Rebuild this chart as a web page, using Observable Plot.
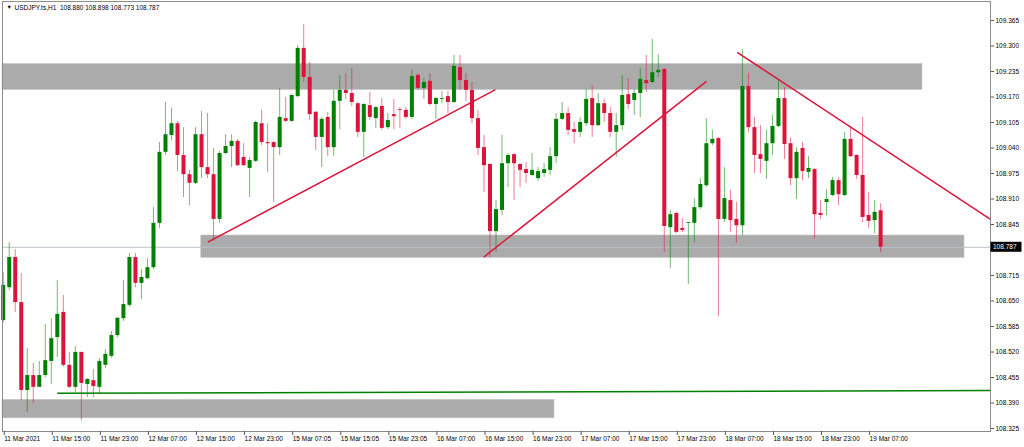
<!DOCTYPE html>
<html><head><meta charset="utf-8">
<script src="https://cdn.jsdelivr.net/npm/d3@7"></script>
<script src="https://cdn.jsdelivr.net/npm/@observablehq/plot@0.6"></script>
<style>html,body{margin:0;padding:0;background:#fff;overflow:hidden} svg{display:block}</style>
</head><body><div id="chart"></div>
<script>
// USDJPY H1 candles, index 0 = 11 Mar 2021 07:00
const open = [
108.600,108.684,108.761,108.646,108.422,108.460,108.430,108.460,108.496,108.557,
108.621,108.486,108.430,108.519,108.437,108.447,108.430,108.486,108.509,108.562,
108.605,108.639,108.761,108.695,108.707,108.735,108.848,109.029,109.072,109.102,
109.021,108.972,108.950,109.074,108.990,108.972,108.858,109.026,109.044,109.057,
109.016,108.988,109.006,109.102,109.054,109.054,109.041,109.115,109.108,109.171,
109.294,109.220,109.131,109.067,109.118,109.041,109.159,109.187,109.179,109.153,
109.080,109.148,109.115,109.146,109.092,109.125,109.138,109.136,109.118,109.225,
109.192,109.210,109.151,109.164,109.171,109.156,109.245,109.212,109.187,109.115,
109.041,108.998,108.827,108.881,109.000,109.023,108.998,108.985,108.970,108.962,
108.975,108.983,109.018,109.113,109.128,109.087,109.080,109.102,109.166,109.097,
109.153,109.128,109.080,109.097,109.176,109.161,109.179,109.212,109.207,109.232,
109.240,108.837,108.873,108.835,108.848,108.848,108.888,108.944,109.051,109.064,
108.858,108.906,108.858,108.842,109.197,109.092,109.023,109.006,109.051,109.095,
109.166,109.051,108.962,109.039,108.978,108.985,108.873,108.901,108.919,108.957,
108.919,109.062,109.021,108.970,108.868,108.855,108.880];
const high = [
108.723,108.799,108.781,108.720,108.529,108.491,108.496,108.590,108.605,108.702,
108.664,108.519,108.534,108.519,108.453,108.475,108.504,108.526,108.572,108.608,
108.702,108.771,108.771,108.730,108.758,108.888,109.054,109.156,109.141,109.108,
109.092,108.983,109.092,109.133,109.128,109.039,109.031,109.074,109.074,109.062,
109.051,109.016,109.108,109.136,109.102,109.057,109.192,109.169,109.176,109.301,
109.355,109.258,109.133,109.118,109.131,109.187,109.225,109.230,109.243,109.156,
109.153,109.181,109.146,109.166,109.128,109.164,109.143,109.143,109.238,109.230,
109.217,109.230,109.169,109.184,109.184,109.276,109.276,109.230,109.207,109.136,
109.072,109.000,108.906,109.072,109.026,109.026,109.000,109.003,109.026,108.990,
109.000,109.041,109.128,109.156,109.143,109.105,109.118,109.189,109.199,109.179,
109.164,109.143,109.128,109.225,109.217,109.189,109.243,109.276,109.317,109.278,
109.243,108.881,108.876,108.860,108.850,108.911,108.962,109.115,109.085,109.067,
108.990,108.932,108.901,109.291,109.230,109.118,109.097,109.085,109.123,109.212,
109.194,109.064,109.041,109.054,109.018,108.988,108.906,108.934,108.965,108.965,
109.080,109.095,109.023,109.118,108.927,108.906,108.898];
const low = [
108.595,108.677,108.621,108.396,108.366,108.389,108.430,108.455,108.437,108.506,
108.481,108.427,108.417,108.345,108.404,108.404,108.414,108.478,108.504,108.557,
108.598,108.634,108.684,108.654,108.705,108.730,108.835,109.021,109.059,108.980,
108.914,108.893,108.947,108.962,108.962,108.802,108.848,109.023,108.990,108.993,
108.993,108.914,109.003,109.046,108.978,108.901,109.021,109.105,109.105,109.169,
109.207,109.110,109.034,108.990,109.018,109.018,109.087,109.164,109.146,109.067,
109.016,109.110,109.090,109.085,109.087,109.087,109.090,109.113,109.113,109.187,
109.164,109.148,109.113,109.153,109.128,109.153,109.187,109.159,109.102,109.021,
108.927,108.761,108.774,108.868,108.939,108.906,108.939,108.950,108.967,108.955,
108.965,108.970,109.000,109.110,109.072,109.051,109.067,109.095,109.067,109.095,
109.105,109.067,109.016,109.085,109.138,109.123,109.118,109.181,109.204,109.220,
108.774,108.733,108.822,108.825,108.692,108.799,108.883,108.939,109.046,108.611,
108.850,108.825,108.797,108.817,109.080,108.975,108.975,108.960,109.021,109.092,
109.011,108.944,108.909,108.957,108.962,108.809,108.858,108.868,108.916,108.893,
108.916,109.016,108.960,108.850,108.835,108.822,108.773];
const close = [
108.690,108.761,108.646,108.422,108.460,108.430,108.460,108.498,108.554,108.616,
108.486,108.430,108.519,108.440,108.450,108.432,108.496,108.514,108.562,108.606,
108.641,108.761,108.695,108.710,108.735,108.848,109.029,109.074,109.102,109.021,
108.972,108.950,109.074,108.990,108.972,108.858,109.026,109.044,109.057,108.995,
108.995,109.008,109.105,109.054,109.051,109.041,109.118,109.108,109.174,109.294,
109.220,109.125,109.067,109.113,109.041,109.159,109.187,109.179,109.156,109.080,
109.151,109.118,109.143,109.090,109.110,109.120,109.136,109.118,109.222,109.192,
109.207,109.151,109.166,109.166,109.156,109.248,109.212,109.187,109.115,109.039,
108.995,108.827,108.883,109.000,109.021,109.000,108.983,108.975,108.983,108.980,
108.985,109.018,109.113,109.128,109.085,109.080,109.105,109.164,109.097,109.153,
109.128,109.080,109.097,109.174,109.151,109.179,109.215,109.204,109.232,109.238,
108.840,108.870,108.825,108.830,108.850,108.888,108.947,109.051,109.062,108.858,
108.911,108.855,108.842,109.197,109.092,109.021,109.011,109.051,109.095,109.166,
109.049,108.962,109.029,108.980,108.988,108.870,108.868,108.909,108.957,108.921,
109.062,109.018,108.970,108.863,108.853,108.876,108.787];

const tickIndex = [0,8,16,24,32,40,48,56,64,72,80,88,96,104,112,120,128,136,144];
const tickLabels = ["11 Mar 2021","11 Mar 15:00","11 Mar 23:00","12 Mar 07:00","12 Mar 15:00","12 Mar 23:00",
  "15 Mar 07:05","15 Mar 15:05","15 Mar 23:05","16 Mar 07:00","16 Mar 15:00","16 Mar 23:00",
  "17 Mar 07:00","17 Mar 15:00","17 Mar 23:00","18 Mar 07:00","18 Mar 15:00","18 Mar 23:00","19 Mar 07:00"];
const priceTicks = [109.365,109.300,109.235,109.170,109.105,109.040,108.975,108.910,108.845,
  108.715,108.650,108.585,108.520,108.455,108.390,108.325];
const bid = 108.787;
const header = "USDJPY.ts,H1\u00a0\u00a0108.880 108.898 108.773 108.787";

// drawn objects (bar index, price)
const zoneX1 = [-0.12, 32.95, -0.12];
const zoneX2 = [152.96, 159.95, 91.73];
const zoneTop = [109.254, 108.817, 108.398];
const zoneBottom = [109.188, 108.760, 108.351];
const trendX1 = [34.04, 79.97, 122.13, 8.99];
const trendY1 = [108.800, 108.762, 109.284, 108.415];
const trendX2 = [81.91, 117.02, 164.28, 164.28];
const trendY2 = [109.189, 109.210, 108.858, 108.422];
const trendColor = ["#dc143c", "#dc143c", "#dc143c", "#008000"];

const UP = "#008000", DOWN = "#dc143c";
const candles = open.map((o, i) => ({i, o, h: high[i], l: low[i], c: close[i], col: close[i] >= o ? UP : DOWN}));
const zones = zoneX1.map((x1, k) => ({x1, x2: zoneX2[k], y1: zoneTop[k], y2: zoneBottom[k]}));
const trends = trendX1.map((x1, k) => ({x1, y1: trendY1[k], x2: trendX2[k], y2: trendY2[k], col: trendColor[k]}));

const FONT = "Liberation Sans, Arial, sans-serif";
const chart = Plot.plot({
  width: 1024, height: 447,
  marginLeft: 2, marginRight: 34, marginTop: 1, marginBottom: 16,
  style: {fontFamily: FONT, fontSize: "6.5px", background: "#fff", color: "#000"},
  x: {type: "linear", domain: [-0.12, 164.28], axis: null},
  y: {domain: [108.3174, 109.4135], axis: null},
  marks: [
    Plot.rect(zones, {x1: "x1", x2: "x2", y1: "y1", y2: "y2", fill: "#ababab", stroke: "#c4c4c4", strokeWidth: 0.6}),
    Plot.ruleY([bid], {stroke: "#b9c1ca", strokeWidth: 1}),
    Plot.ruleX(candles, {x: "i", y1: "l", y2: "h", stroke: "col", strokeOpacity: 0.55, strokeWidth: 1}),
    Plot.ruleX(candles, {x: "i", y1: "o", y2: "c", stroke: "col", strokeWidth: 4}),
    Plot.link(trends, {x1: "x1", y1: "y1", x2: "x2", y2: "y2", stroke: "col", strokeWidth: 1.5}),
    Plot.frame({stroke: "#8c8c8c"}),
    Plot.axisX({ticks: tickIndex, tickFormat: d => tickLabels[tickIndex.indexOf(d)], tickSize: 4, tickPadding: 1,
      textAnchor: "start", dx: 1, fontSize: 6.5, label: null, stroke: "#555"}),
    Plot.axisY({anchor: "right", ticks: priceTicks, tickFormat: d3.format(".3f"), tickSize: 3, tickPadding: 2,
      fontSize: 6.5, label: null, stroke: "#555"}),
    Plot.text(["\u25BC"], {frameAnchor: "top-left", dx: 4, dy: 4, textAnchor: "start", lineAnchor: "top", fontSize: 5.5}),
    Plot.text([header], {frameAnchor: "top-left", dx: 12, dy: 4, textAnchor: "start", lineAnchor: "top", fontSize: 6.5})
  ]
});

// current bid price label on the price axis
const yb = chart.scale("y").apply(bid);
const g = d3.select(chart).append("g");
g.append("rect").attr("x", 990.5).attr("y", yb - 5).attr("width", 31).attr("height", 10).attr("fill", "#000");
g.append("text").attr("x", 993).attr("y", yb).attr("dy", "0.35em").attr("fill", "#fff")
  .attr("text-anchor", "start").attr("font-size", 6.5).attr("font-family", FONT).text(d3.format(".3f")(bid));

document.getElementById("chart").appendChild(chart);
</script>
</body></html>
